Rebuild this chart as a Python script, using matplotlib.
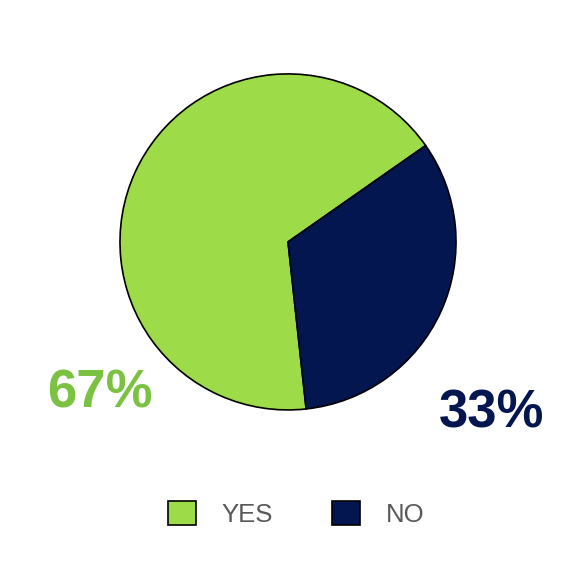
import matplotlib.pyplot as plt
from matplotlib.patches import Patch

labels = ["YES", "NO"]
values = [67, 33]
fill_colors = ["#9ddb48", "#041650"]
text_colors = ["#7cc242", "#041650"]

plt.rcParams["font.family"] = ["Liberation Sans", "DejaVu Sans"]

fig = plt.figure(figsize=(5.76, 5.76), dpi=100)
ax = fig.add_axes([0.5 - 0.2917, 0.580 - 0.2917, 0.5834, 0.5834])

ax.pie(
    values, colors=fill_colors, startangle=35, counterclock=True,
    radius=1, wedgeprops=dict(edgecolor="black", linewidth=1.2),
)
ax.set_xlim(-1, 1)
ax.set_ylim(-1, 1)
ax.set_aspect("equal")
ax.axis("off")

# percentage labels outside the pie, bottom left / bottom right
label_pos = [(-1.12, -0.905), (1.21, -1.024)]
for v, c, (x, y) in zip(values, text_colors, label_pos):
    ax.text(x, y, f"{v}%", color=c, fontsize=38, fontweight="bold",
            ha="center", va="center", clip_on=False)

handles = [Patch(facecolor=fc, edgecolor="black", linewidth=1.2) for fc in fill_colors]
leg = fig.legend(
    handles, labels, loc="center", bbox_to_anchor=(0.514, 0.108),
    ncol=2, frameon=False, fontsize=18.5, handlelength=1.1, handleheight=1.1,
    handletextpad=1.0, columnspacing=2.3,
)
for t in leg.get_texts():
    t.set_color("#595959")

fig.savefig("out.png", dpi=100, facecolor="white")
